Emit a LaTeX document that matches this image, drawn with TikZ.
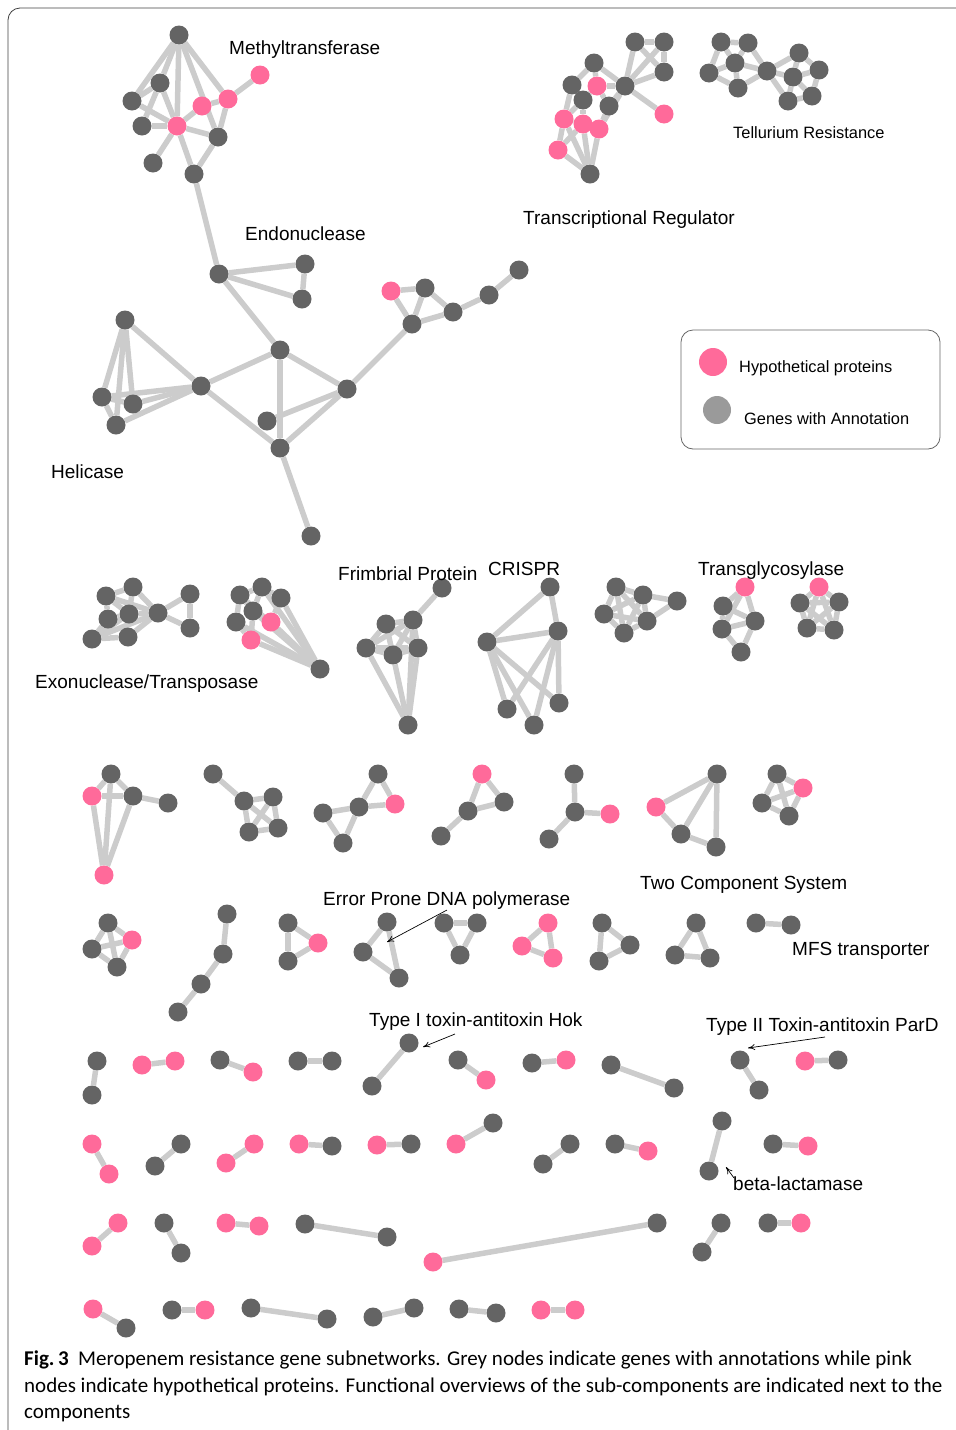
\documentclass[tikz,border=0pt]{standalone}
\usepackage{fontspec}
\setmainfont{Liberation Sans}
\newfontfamily\capfont{Carlito}
\usetikzlibrary{positioning, arrows.meta}
\pgfdeclarelayer{edges}
\pgfsetlayers{edges,main}
\definecolor{nodegrey}{HTML}{646464}
\definecolor{nodepink}{HTML}{FF6A9A}
\definecolor{edgegrey}{HTML}{CCCCCC}
\definecolor{keygrey}{HTML}{9A9A9A}

\begin{document}
\begin{tikzpicture}[x=1pt,y=-1pt,
    gn/.style={circle,fill=nodegrey,minimum size=19pt,inner sep=0pt},
    pn/.style={gn,fill=nodepink},
    ln/.style={draw=edgegrey,line width=5.5pt},
    lbl/.style={anchor=base west,inner sep=0pt,font=\fontsize{19}{22}\selectfont},
    smalllbl/.style={lbl,font=\fontsize{16.4}{19}\selectfont},
    pointer/.style={-{To[length=7pt,width=6pt]},line width=0.7pt},
    caption/.style={anchor=base west,inner sep=0pt,font=\capfont\fontsize{21}{26}\selectfont}]

  \useasboundingbox (0,0) rectangle (956,1430);
  \draw[rounded corners=12pt,line width=0.8pt,black!75] (8,1430) -- (8,8) -- (956,8);

  % methyltransferase
  \node[gn] (mt0) at (179,35) {};
  \node[gn] (mt1) at (160,83) {};
  \node[gn] (mt2) at (132,101) {};
  \node[gn] (mt3) at (142,126) {};
  \node[pn] (mt4) at (177,126) {};
  \node[pn] (mt5) at (202,106) {};
  \node[pn] (mt6) at (228,99) {};
  \node[pn] (mt7) at (260,75) {};
  \node[gn] (mt8) at (218,137) {};
  \node[gn] (mt9) at (153,163) {};
  \node[gn] (mt10) at (194,174) {};
  % endonuclease, helicase and the rest of that component
  \node[gn] (en1) at (219,274) {};
  \node[gn] (en2) at (305,264) {};
  \node[gn] (en3) at (302,299) {};
  \node[gn] (cc1) at (280,350) {};
  \node[gn] (cc2) at (347,389) {};
  \node[gn] (cc3) at (267,421) {};
  \node[gn] (cc4) at (280,448) {};
  \node[gn] (cc5) at (311,536) {};
  \node[gn] (hc0) at (201,386) {};
  \node[gn] (hc1) at (125,320) {};
  \node[gn] (hc2) at (102,397) {};
  \node[gn] (hc3) at (133,404) {};
  \node[gn] (hc4) at (116,425) {};
  \node[pn] (rr0) at (391,291) {};
  \node[gn] (rr1) at (412,324) {};
  \node[gn] (rr2) at (425,288) {};
  \node[gn] (rr3) at (453,312) {};
  \node[gn] (rr4) at (489,295) {};
  \node[gn] (rr5) at (519,270) {};
  % transcriptional regulator
  \node[gn] (tr1) at (635,42) {};
  \node[gn] (tr2) at (664,42) {};
  \node[gn] (tr3) at (664,72) {};
  \node[gn] (tr0) at (625,86) {};
  \node[pn] (tr4) at (664,114) {};
  \node[gn] (tr5) at (594,63) {};
  \node[gn] (tr6) at (572,85) {};
  \node[gn] (tr8) at (583,100) {};
  \node[gn] (tr9) at (609,106) {};
  \node[pn] (tr7) at (597,86) {};
  \node[pn] (tr10) at (564,119) {};
  \node[pn] (tr11) at (583,124) {};
  \node[pn] (tr12) at (599,129) {};
  \node[pn] (tr13) at (558,150) {};
  \node[gn] (tr14) at (590,174) {};
  % tellurium resistance
  \node[gn] (te1) at (721,42) {};
  \node[gn] (te2) at (748,43) {};
  \node[gn] (te3) at (735,63) {};
  \node[gn] (te4) at (709,73) {};
  \node[gn] (te5) at (738,88) {};
  \node[gn] (te0) at (767,71) {};
  \node[gn] (te6) at (799,53) {};
  \node[gn] (te7) at (819,70) {};
  \node[gn] (te8) at (793,77) {};
  \node[gn] (te9) at (812,96) {};
  \node[gn] (te10) at (788,101) {};

  % second row
  \node[gn] (ex1) at (106,596) {};
  \node[gn] (ex2) at (133,587) {};
  \node[gn] (ex3) at (108,619) {};
  \node[gn] (ex4) at (129,614) {};
  \node[gn] (ex5) at (92,639) {};
  \node[gn] (ex6) at (128,637) {};
  \node[gn] (ex0) at (158,613) {};
  \node[gn] (ex7) at (190,594) {};
  \node[gn] (ex8) at (190,628) {};
  \node[gn] (tp1) at (240,595) {};
  \node[gn] (tp2) at (262,587) {};
  \node[gn] (tp3) at (281,598) {};
  \node[gn] (tp4) at (253,611) {};
  \node[gn] (tp5) at (236,622) {};
  \node[pn] (tp6) at (271,622) {};
  \node[pn] (tp7) at (251,640) {};
  \node[gn] (tp0) at (320,669) {};
  \node[gn] (fr1) at (442,588) {};
  \node[gn] (fr2) at (413,620) {};
  \node[gn] (fr3) at (386,624) {};
  \node[gn] (fr4) at (366,648) {};
  \node[gn] (fr5) at (393,655) {};
  \node[gn] (fr6) at (418,648) {};
  \node[gn] (fr0) at (408,725) {};
  \node[gn] (cr1) at (550,587) {};
  \node[gn] (cr2) at (558,631) {};
  \node[gn] (cr3) at (487,642) {};
  \node[gn] (cr4) at (507,709) {};
  \node[gn] (cr5) at (534,725) {};
  \node[gn] (cr6) at (559,703) {};
  \node[gn] (qq1) at (616,587) {};
  \node[gn] (qq2) at (643,595) {};
  \node[gn] (qq3) at (604,614) {};
  \node[gn] (qq4) at (647,621) {};
  \node[gn] (qq5) at (624,633) {};
  \node[gn] (qq6) at (677,601) {};
  \node[pn] (tg0) at (745,587) {};
  \node[gn] (tg1) at (723,606) {};
  \node[gn] (tg2) at (755,621) {};
  \node[gn] (tg3) at (722,629) {};
  \node[gn] (tg4) at (741,652) {};
  \node[pn] (tw0) at (819,587) {};
  \node[gn] (tw1) at (800,603) {};
  \node[gn] (tw2) at (839,602) {};
  \node[gn] (tw3) at (807,628) {};
  \node[gn] (tw4) at (834,630) {};

  % third row
  \node[gn] (ra1) at (111,774) {};
  \node[pn] (ra0) at (92,796) {};
  \node[gn] (ra2) at (133,796) {};
  \node[gn] (ra3) at (168,803) {};
  \node[pn] (ra4) at (104,875) {};
  \node[gn] (rb1) at (213,774) {};
  \node[gn] (rb2) at (244,801) {};
  \node[gn] (rb3) at (273,797) {};
  \node[gn] (rb4) at (249,832) {};
  \node[gn] (rb5) at (278,828) {};
  \node[gn] (rc1) at (378,774) {};
  \node[pn] (rc0) at (395,804) {};
  \node[gn] (rc2) at (359,807) {};
  \node[gn] (rc3) at (323,813) {};
  \node[gn] (rc4) at (343,843) {};
  \node[pn] (rd0) at (482,774) {};
  \node[gn] (rd1) at (504,802) {};
  \node[gn] (rd2) at (468,811) {};
  \node[gn] (rd3) at (441,836) {};
  \node[gn] (re1) at (574,774) {};
  \node[gn] (re2) at (575,812) {};
  \node[pn] (re0) at (610,814) {};
  \node[gn] (re3) at (549,839) {};
  \node[pn] (rf0) at (656,807) {};
  \node[gn] (rf1) at (717,774) {};
  \node[gn] (rf2) at (681,834) {};
  \node[gn] (rf3) at (716,847) {};
  \node[gn] (rg1) at (777,774) {};
  \node[pn] (rg0) at (803,788) {};
  \node[gn] (rg2) at (762,803) {};
  \node[gn] (rg3) at (789,816) {};

  % fourth row
  \node[gn] (sa1) at (108,923) {};
  \node[pn] (sa0) at (132,940) {};
  \node[gn] (sa2) at (92,949) {};
  \node[gn] (sa3) at (117,967) {};
  \node[gn] (sb1) at (227,914) {};
  \node[gn] (sb2) at (223,954) {};
  \node[gn] (sb3) at (201,984) {};
  \node[gn] (sb4) at (178,1012) {};
  \node[gn] (sc1) at (288,923) {};
  \node[pn] (sc0) at (318,943) {};
  \node[gn] (sc2) at (288,961) {};
  \node[gn] (sd1) at (387,922) {};
  \node[gn] (sd2) at (363,952) {};
  \node[gn] (sd3) at (399,978) {};
  \node[gn] (se1) at (444,923) {};
  \node[gn] (se2) at (477,923) {};
  \node[gn] (se3) at (460,955) {};
  \node[pn] (sf1) at (548,923) {};
  \node[pn] (sf2) at (522,946) {};
  \node[pn] (sf3) at (553,958) {};
  \node[gn] (sg1) at (602,923) {};
  \node[gn] (sg2) at (630,945) {};
  \node[gn] (sg3) at (599,961) {};
  \node[gn] (sh1) at (696,923) {};
  \node[gn] (sh2) at (675,955) {};
  \node[gn] (sh3) at (710,958) {};
  \node[gn] (si1) at (756,923) {};
  \node[gn] (si2) at (791,925) {};

  \begin{pgfonlayer}{edges}
    \foreach \a/\b in {mt0/mt2,mt0/mt1,mt0/mt4,mt0/mt6,mt0/mt8,mt2/mt1,mt2/mt4,
        mt1/mt3,mt1/mt4,mt3/mt4,mt4/mt5,mt5/mt6,mt6/mt7,mt4/mt8,mt6/mt8,
        mt8/mt10,mt4/mt10,mt4/mt9,mt10/en1,
        en1/en2,en1/en3,en2/en3,en1/cc1,
        hc1/hc0,hc1/hc2,hc1/hc3,hc1/hc4,hc2/hc0,hc3/hc0,hc4/hc0,hc2/hc4,hc2/hc3,
        hc0/cc1,hc0/cc4,cc1/cc4,cc1/cc2,cc2/cc4,cc2/cc3,cc4/cc5,cc2/rr1,
        rr0/rr2,rr0/rr1,rr1/rr2,rr2/rr3,rr1/rr3,rr3/rr4,rr4/rr5,
        tr1/tr2,tr2/tr3,tr1/tr3,tr1/tr0,tr2/tr0,tr3/tr0,tr0/tr4,tr0/tr5,
        tr0/tr9,tr0/tr7,tr0/tr12,tr5/tr6,tr5/tr7,tr6/tr10,tr6/tr8,tr7/tr9,
        tr7/tr8,tr8/tr11,tr9/tr12,tr8/tr10,tr10/tr11,tr11/tr12,tr10/tr13,
        tr13/tr14,tr11/tr14,tr12/tr14,tr10/tr14,tr13/tr11,
        te1/te2,te2/te0,te0/te5,te5/te4,te4/te1,te3/te1,te3/te2,te3/te0,
        te3/te4,te3/te5,te0/te6,te6/te7,te7/te9,te9/te10,te10/te0,
        te8/te0,te8/te6,te8/te7,te8/te9,te8/te10}
      \draw[ln] (\a) -- (\b);
    \foreach \a/\b in {ex1/ex2,ex1/ex3,ex2/ex0,ex4/ex0,ex6/ex0,ex5/ex6,ex3/ex5,
        ex1/ex0,ex2/ex4,ex3/ex4,ex5/ex4,ex0/ex7,ex0/ex8,ex7/ex8,ex1/ex4,ex5/ex0,
        tp0/tp1,tp0/tp2,tp0/tp3,tp0/tp4,tp0/tp5,tp0/tp6,tp0/tp7,tp1/tp2,
        tp2/tp3,tp1/tp4,tp1/tp5,tp5/tp7,tp4/tp6,tp6/tp3,tp4/tp7,tp2/tp4,
        fr1/fr2,fr2/fr3,fr2/fr4,fr2/fr5,fr2/fr6,fr3/fr4,fr3/fr5,fr3/fr6,
        fr4/fr5,fr5/fr6,fr4/fr6,fr4/fr0,fr5/fr0,fr6/fr0,fr2/fr0,
        cr1/cr3,cr1/cr2,cr3/cr2,cr3/cr4,cr3/cr5,cr3/cr6,cr2/cr4,cr2/cr5,cr2/cr6,
        qq1/qq2,qq1/qq3,qq1/qq4,qq1/qq5,qq2/qq3,qq2/qq4,qq2/qq5,qq3/qq4,
        qq3/qq5,qq4/qq5,qq2/qq6,qq4/qq6,
        tg0/tg1,tg0/tg2,tg0/tg3,tg1/tg2,tg1/tg3,tg3/tg2,tg3/tg4,tg2/tg4,
        tw0/tw1,tw0/tw2,tw0/tw3,tw0/tw4,tw1/tw2,tw1/tw3,tw1/tw4,tw2/tw3,
        tw2/tw4,tw3/tw4}
      \draw[ln] (\a) -- (\b);
    \foreach \a/\b in {ra1/ra0,ra1/ra2,ra0/ra2,ra2/ra3,ra0/ra4,ra1/ra4,ra2/ra4,
        rb1/rb2,rb2/rb3,rb2/rb4,rb3/rb5,rb4/rb5,rb2/rb5,rb3/rb4,
        rc1/rc0,rc1/rc2,rc2/rc0,rc2/rc3,rc2/rc4,rc3/rc4,
        rd0/rd1,rd0/rd2,rd1/rd2,rd2/rd3,
        re1/re2,re2/re0,re2/re3,
        rf0/rf1,rf0/rf2,rf1/rf2,rf1/rf3,rf2/rf3,
        rg1/rg0,rg1/rg2,rg1/rg3,rg0/rg2,rg0/rg3,rg2/rg3,
        sa1/sa0,sa1/sa2,sa1/sa3,sa0/sa2,sa0/sa3,sa2/sa3,
        sb1/sb2,sb2/sb3,sb3/sb4,
        sc1/sc0,sc1/sc2,sc0/sc2,
        sd1/sd2,sd1/sd3,sd2/sd3,
        se1/se2,se1/se3,se2/se3,
        sf1/sf2,sf1/sf3,sf2/sf3,
        sg1/sg2,sg1/sg3,sg2/sg3,
        sh1/sh2,sh1/sh3,sh2/sh3,
        si1/si2}
      \draw[ln] (\a) -- (\b);
  \end{pgfonlayer}

  % pairs
  \foreach \n/\xa/\ya/\ca/\xb/\yb/\cb in {
      p1/97/1061/grey/92/1095/grey, p2/142/1065/pink/175/1061/pink,
      p3/220/1060/grey/253/1072/pink, p4/298/1061/grey/332/1061/grey,
      p5/409/1043/grey/372/1086/grey, p6/458/1060/grey/486/1080/pink,
      p7/532/1063/grey/566/1060/pink, p8/611/1065/grey/674/1088/grey,
      p9/740/1060/grey/759/1090/grey, p10/805/1061/pink/838/1060/grey,
      q1/92/1144/pink/109/1174/pink, q2/181/1144/grey/155/1166/grey,
      q3/254/1144/pink/226/1163/pink, q4/299/1144/pink/332/1146/grey,
      q5/377/1145/pink/411/1144/grey, q6/456/1144/pink/493/1123/grey,
      q7/570/1144/grey/543/1164/grey, q8/615/1144/grey/648/1151/pink,
      q9/722/1121/grey/709/1171/grey, q10/773/1144/grey/808/1146/pink,
      u1/118/1223/pink/92/1246/pink, u2/164/1223/grey/181/1253/grey,
      u3/226/1223/pink/259/1226/pink, u4/305/1224/grey/387/1237/grey,
      u5/433/1262/pink/657/1223/grey, u6/721/1223/grey/702/1252/grey,
      u7/768/1223/grey/801/1223/pink,
      v1/93/1309/pink/126/1328/grey, v2/172/1310/grey/205/1310/pink,
      v3/251/1308/grey/327/1319/grey, v4/373/1317/grey/414/1308/grey,
      v5/459/1309/grey/496/1313/grey, v6/541/1310/pink/575/1310/pink}{
    \node[gn,fill=node\ca] (\n a) at (\xa,\ya) {};
    \node[gn,fill=node\cb] (\n b) at (\xb,\yb) {};
    \begin{pgfonlayer}{edges}
      \draw[ln] (\n a) -- (\n b);
    \end{pgfonlayer}
  }

  % labels
  \node[lbl] (lmt) at (229,54) {Methyltransferase};
  \node[smalllbl] (lte) at (733,138) {Tellurium Resistance};
  \node[lbl] (ltr) at (523,224) {Transcriptional Regulator};
  \node[lbl] (len) at (245,240) {Endonuclease};
  \node[lbl] (lhc) at (51,478) {Helicase};
  \node[lbl] (lex) at (35,688) {Exonuclease/Transposase};
  \node[lbl] (lfr) at (338,580) {Frimbrial Protein};
  \node[lbl] (lcr) at (488,575) {CRISPR};
  \node[lbl] (ltg) at (698,575) {Transglycosylase};
  \node[lbl] (ltc) at (640,889) {Two Component System};
  \node[lbl] (lep) at (323,905) {Error Prone DNA polymerase};
  \node[lbl] (lmf) at (792,955) {MFS transporter};
  \node[lbl] (lhok) at (369,1026) {Type I toxin-antitoxin Hok};
  \node[lbl] (lpar) at (706,1031) {Type II Toxin-antitoxin ParD};
  \node[lbl] (lbeta) at (733,1190) {beta-lactamase};

  % pointers
  \coordinate (eptail) at (447,910);
  \coordinate (ephead) at (387,942);
  \coordinate (hoktail) at (455,1034);
  \coordinate (hokhead) at (423,1047);
  \coordinate (partail) at (825,1037);
  \coordinate (parhead) at (748,1048);
  \coordinate (bltail) at (734,1178);
  \coordinate (blhead) at (726,1167);
  \draw[pointer] (eptail) -- (ephead);
  \draw[pointer] (hoktail) -- (hokhead);
  \draw[pointer] (partail) -- (parhead);
  \draw[pointer] (bltail) -- (blhead);

  % legend
  \draw[rounded corners=12pt,black!60,line width=0.8pt] (681,330) rectangle (940,449);
  \node[circle,fill=nodepink,minimum size=28pt,inner sep=0pt] (keypink) at (713,362) {};
  \node[circle,fill=keygrey,minimum size=28pt,inner sep=0pt] (keygrey) at (717,410) {};
  \node[smalllbl] (lkp) at (739,372) {Hypothetical proteins};
  \node[smalllbl] (lkg) at (744,424) {Genes with Annotation};

  % caption
  \node[caption] (cap1) at (24,1365) {\textbf{Fig.\,3}\ \ Meropenem resistance gene subnetworks. Grey nodes indicate genes with annotations while pink};
  \node[caption] (cap2) at (24,1392) {nodes indicate hypothetical proteins. Functional overviews of the sub-components are indicated next to the};
  \node[caption] (cap3) at (24,1418) {components};
\end{tikzpicture}
\end{document}
